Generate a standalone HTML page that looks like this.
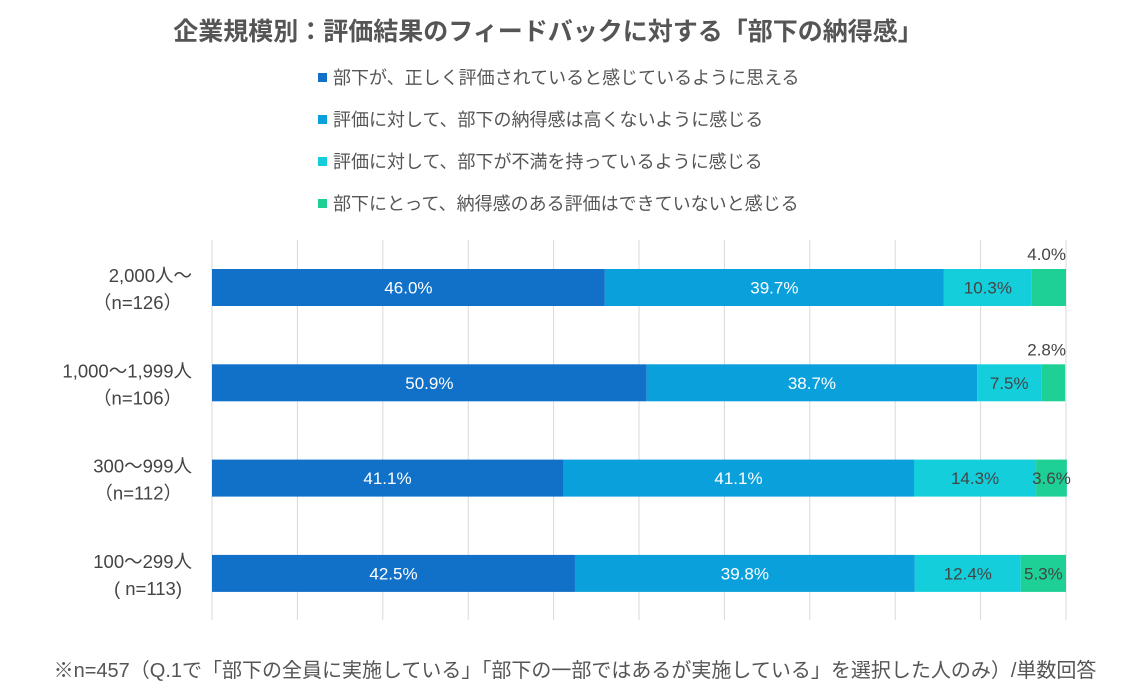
<!DOCTYPE html>
<html><head><meta charset="utf-8"><style>
body{margin:0;background:#fff;width:1142px;height:693px;overflow:hidden;font-family:"Liberation Sans","Noto Sans CJK JP",sans-serif;}
svg text{font-family:"Liberation Sans","Noto Sans CJK JP",sans-serif;}
</style></head><body>
<svg width="1142" height="693">
<text x="548" y="40" text-anchor="middle" font-size="25" font-weight="bold" fill="#555">企業規模別：評価結果のフィードバックに対する「部下の納得感」</text>
<g id="legend"></g>
<g id="grid"></g>
<g id="bars"></g>
<g id="cats"></g>
<text x="575" y="677" text-anchor="middle" font-size="20" fill="#555">※n=457（Q.1で「部下の全員に実施している」「部下の一部ではあるが実施している」を選択した人のみ）/単数回答</text>
</svg>
<script>
const categories=["2,000人～|（n=126）","1,000～1,999人|（n=106）","300～999人|（n=112）","100～299人|( n=113)"];
const seriesNames=["部下が、正しく評価されていると感じているように思える","評価に対して、部下の納得感は高くないように感じる","評価に対して、部下が不満を持っているように感じる","部下にとって、納得感のある評価はできていないと感じる"];
const s1=[46.0,50.9,41.1,42.5];
const s2=[39.7,38.7,41.1,39.8];
const s3=[10.3,7.5,14.3,12.4];
const s4=[4.0,2.8,3.6,5.3];
const series=[s1,s2,s3,s4];
const colors=["#1170c8","#0aa0dc","#14cedc","#1ecf96"];
const textCol=["#fff","#fff","#444","#444"];
const NS="http://www.w3.org/2000/svg";
const x0=212,x1=1066;
const xs=v=>x0+(x1-x0)*v/100;
const rowY=i=>269+i*95.3;
const bh=37;
function el(t,a,p,txt){const e=document.createElementNS(NS,t);for(const k in a)e.setAttribute(k,a[k]);if(txt!=null)e.textContent=txt;p.appendChild(e);return e;}
const lg=document.getElementById('legend');
seriesNames.forEach((n,i)=>{
 const y=78+i*42;
 const r=el('rect',{x:318,y:y-5,width:9,height:9,fill:colors[i]},lg);
 
 
 const t=el('text',{x:333,y:y+6,'font-size':18,fill:'#555'},lg,n);
 
 
});
const g=document.getElementById('grid');
for(let v=0;v<=100;v+=10){
 const l=el('line',{x1:xs(v),x2:xs(v),y1:240,y2:620,stroke:'#d9d9d9','stroke-width':1},g);
 
 
}
const b=document.getElementById('bars');
categories.forEach((c,i)=>{
 let acc=0;const y=rowY(i);
 series.forEach((s,j)=>{
  const v=s[i];
  const r=el('rect',{x:xs(acc),y:y,width:xs(acc+v)-xs(acc),height:bh,fill:colors[j]},b);
  
  
  const cx=(xs(acc)+xs(acc+v))/2;
  let ty=y+bh/2+6,fill=textCol[j],anchor='middle',tx=cx;
  if(j==3&&i<2){ty=y-9;tx=xs(100);anchor='end';}
  const t=el('text',{x:tx,y:ty,'text-anchor':anchor,'font-size':17,fill:fill},b,v.toFixed(1)+'%');
  
  
  acc+=v;
 });
 const [a,bb]=c.split('|');
 const cg=document.getElementById('cats');
 const t1=el('text',{x:192,y:y+13,'text-anchor':'end','font-size':18.5,fill:'#444'},cg,a);
 
 
 const t2=el('text',{x:182,y:y+40,'text-anchor':'end','font-size':18.5,fill:'#444'},cg,bb);
 
 
});
</script>
</body></html>
